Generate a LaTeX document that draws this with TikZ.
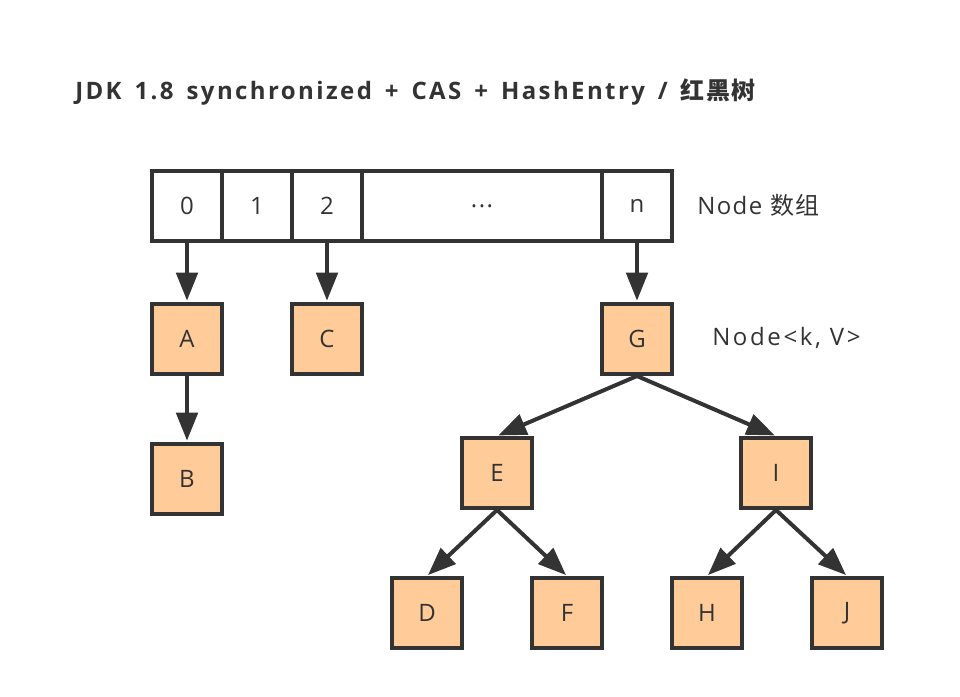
\documentclass[tikz,border=0pt]{standalone}
\usepackage{fontspec}
\setmainfont{Open Sans}[LetterSpace=6]
\newfontfamily\cjk{Noto Sans CJK SC}[LetterSpace=6]
\newfontfamily\widelbl{Open Sans}[LetterSpace=11]
\newfontfamily\titlefont{Open Sans}[LetterSpace=10,WordSpace=1.5]
\newfontfamily\titlecjk{Noto Sans CJK SC}[LetterSpace=6]
\usetikzlibrary{arrows.meta}
\definecolor{ink}{HTML}{333333}
\definecolor{peach}{HTML}{FFCC99}
\tikzset{
  cell/.style={draw=ink, line width=3pt, minimum height=52.5pt, inner sep=0pt, text=ink, font=\fontsize{18pt}{21pt}\selectfont, anchor=north west},
  ebox/.style={cell, fill=peach, minimum width=52.5pt},
  link/.style={draw=ink, line width=3pt, -{Triangle[length=21pt,width=16pt]}, shorten >=1pt},
  lbl/.style={text=ink, inner sep=0pt, font=\fontsize{18pt}{21pt}\selectfont}
}
\begin{document}
\begin{tikzpicture}[x=0.75pt,y=-0.75pt]
\useasboundingbox (0,0) rectangle (960,696);
% title
\node[anchor=base west, inner sep=0pt, text=ink, font=\titlefont\fontsize{18pt}{22pt}\selectfont\bfseries] (title) at (75,99) {JDK 1.8 synchronized + CAS + HashEntry / {\titlecjk\bfseries 红黑树}};
% array
\node[cell, minimum width=52.5pt] (c0) at (150,169) {0};
\node[cell, minimum width=52.5pt] (c1) at (220,169) {1};
\node[cell, minimum width=52.5pt] (c2) at (290,169) {2};
\node[cell, minimum width=180pt] (cd) at (360,169) {...};
\node[cell, minimum width=52.5pt] (cn) at (600,169) {n};
\node[lbl, anchor=west] (arrlbl) at (697,205) {Node {\cjk 数组}};
% entries
\node[ebox] (A) at (150,302) {A};
\node[ebox] (C) at (290,302) {C};
\node[ebox] (G) at (600,302) {G};
\node[lbl, anchor=west, font=\widelbl\fontsize{18pt}{21pt}\selectfont] (nodelbl) at (712,338) {Node<k, V>};
\node[ebox] (B) at (150,442) {B};
\node[ebox] (E) at (460,436) {E};
\node[ebox] (I) at (739,436) {I};
\node[ebox] (D) at (390,576) {D};
\node[ebox] (F) at (530,576) {F};
\node[ebox] (H) at (670,576) {H};
\node[ebox] (J) at (810,576) {J};
% links
\draw[link] (c0.south) -- (A.north);
\draw[link] (c2.south) -- (C.north);
\draw[link] (cn.south) -- (G.north);
\draw[link] (A.south) -- (B.north);
\draw[link] (G.south) -- (E.north);
\draw[link] (G.south) -- (I.north);
\draw[link] (E.south) -- (D.north);
\draw[link] (E.south) -- (F.north);
\draw[link] (I.south) -- (H.north);
\draw[link] (I.south) -- (J.north);
\end{tikzpicture}
\end{document}
